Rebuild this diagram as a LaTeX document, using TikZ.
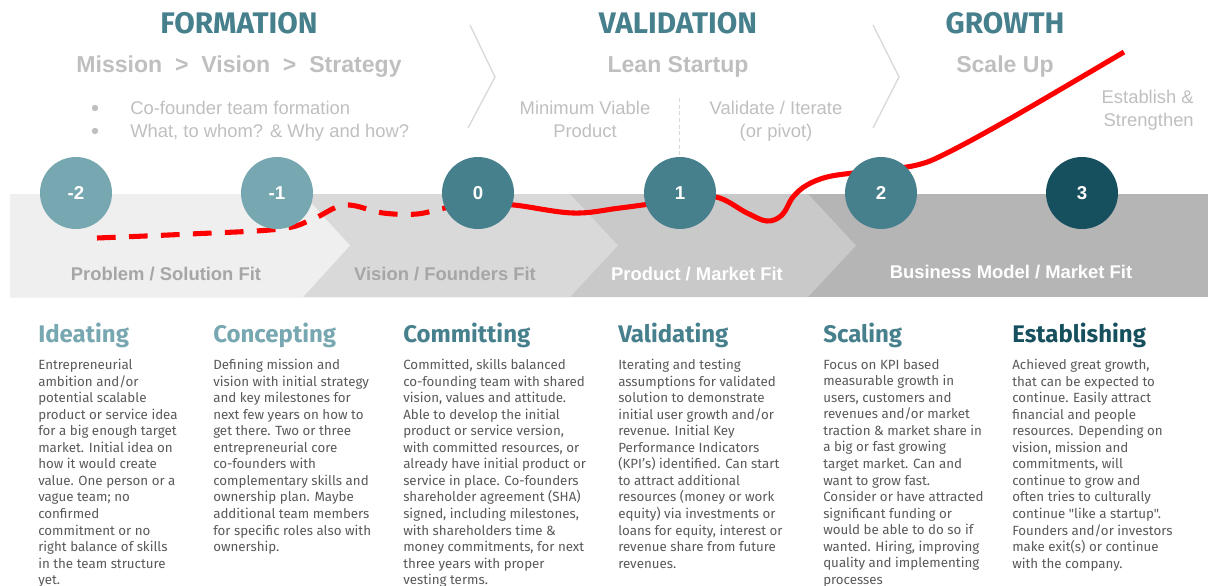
\documentclass[tikz,border=0pt]{standalone}
\usepackage{fontspec}
\setmainfont{Liberation Sans}
\newfontfamily\ubu{Fira Sans}
\usetikzlibrary{positioning}
\definecolor{tealL}{HTML}{77A7B0}
\definecolor{tealM}{HTML}{47808D}
\definecolor{tealD}{HTML}{164F5E}
\definecolor{gryA}{HTML}{EFEFEF}
\definecolor{gryB}{HTML}{D9D9D9}
\definecolor{gryC}{HTML}{C9C9C9}
\definecolor{gryD}{HTML}{B5B5B5}
\definecolor{txtL}{HTML}{BFBFBF}
\definecolor{txtM}{HTML}{A6A6A6}
\definecolor{txtB}{HTML}{595959}
\tikzset{
  phase/.style={font=\ubu\bfseries\fontsize{22.3}{25}\selectfont, text=tealM, inner sep=0, anchor=base},
  sub/.style={font=\bfseries\fontsize{17.3}{20}\selectfont, text=txtL, inner sep=0, anchor=base},
  note/.style={font=\fontsize{13.8}{17.25}\selectfont, text=txtL, inner sep=0, align=center, anchor=north},
  stage/.style={circle, minimum size=54pt, inner sep=0, text=white, font=\bfseries\fontsize{14}{16}\selectfont},
  fitlabel/.style={font=\bfseries\fontsize{13.8}{16}\selectfont, inner sep=0, anchor=base},
  head/.style={font=\ubu\bfseries\fontsize{18}{21}\selectfont, inner sep=0, anchor=base west},
  body/.style={font=\ubu\fontsize{10}{12.4}\selectfont, text=txtB, align=left, anchor=north west, inner sep=0},
  sep/.style={draw=gryB, line width=1pt},
  path/.style={red, line width=3.8pt},
}
\begin{document}
\begin{tikzpicture}[x=0.75pt, y=-0.75pt]
\useasboundingbox (0,0) rectangle (1208,586);

% band of stages
\fill[gryD] (10,194) rectangle (1208,297);
\fill[gryC] (10,194) -- (808,194) -- (856,245.5) -- (808,297) -- (10,297) -- cycle;
\fill[gryB] (10,194) -- (570,194) -- (618,245.5) -- (570,297) -- (10,297) -- cycle;
\fill[gryA] (10,194) -- (303,194) -- (350,245.5) -- (303,297) -- (10,297) -- cycle;

\node[fitlabel, text=txtM] (psf) at (166,280) {Problem / Solution Fit};
\node[fitlabel, text=txtM] (vff) at (445,280) {Vision / Founders Fit};
\node[fitlabel, text=white] (pmf) at (697,280) {Product / Market Fit};
\node[fitlabel, text=white] (bmf) at (1011,278) {Business Model / Market Fit};

% phases
\node[phase] (formation) at (239,33.5) {FORMATION};
\node[phase] (validation) at (678,33.5) {VALIDATION};
\node[phase] (growth) at (1005,33.5) {GROWTH};
\node[sub] (mvs) at (239,72) {Mission~~>~~Vision~~>~~Strategy};
\node[sub] (lean) at (678,72) {Lean Startup};
\node[sub] (scale) at (1005,72) {Scale Up};

\draw[sep] (470,25) -- (495,77) -- (468,128);
\draw[sep] (873,25) -- (899,77) -- (873,128);

\fill[txtL] (95,108) circle (3.2);
\fill[txtL] (95,131) circle (3.2);
\node[note, align=left, anchor=north west] (team) at (130,100.5) {Co-founder team formation\\What, to whom? \& Why and how?};
\node[note] (mvp) at (585,100.5) {Minimum Viable\\Product};
\node[note] (iter) at (776,100.5) {Validate / Iterate\\(or pivot)};
\node[note, align=right, anchor=north east] (est) at (1194,89.5) {Establish \&\\Strengthen};
\draw[gryB, dash pattern=on 3pt off 2pt] (679,98) -- (679,160);

% startup curve
\draw[path, dash pattern=on 14pt off 10pt] plot[smooth, tension=0.6] coordinates {(97,238) (190,234) (280,229) (313,219) (345,205) (383,213) (417,214) (445,208) (478,204)};
\draw[path] plot[smooth, tension=0.6] coordinates {(478,204) (514,205) (573,213) (620,208) (680,200) (716,197) (747,213) (767,221) (782,215) (793,197) (807,185) (827,177) (853,173) (881,170) (917,165) (947,153) (1013,117) (1124,52)};

% stages
\node[stage, fill=tealL] (m2) at (76,193) {-2};
\node[stage, fill=tealL] (m1) at (277,193) {-1};
\node[stage, fill=tealM] (s0) at (478,193) {0};
\node[stage, fill=tealM] (s1) at (680,193) {1};
\node[stage, fill=tealM] (s2) at (881,193) {2};
\node[stage, fill=tealD] (s3) at (1082,193) {3};

% columns
\node[head, text=tealL] (ideating) at (38,342) {Ideating};
\node[body] (ideatingtxt) at (38,359) {Entrepreneurial\\ambition and/or\\potential scalable\\product or service idea\\for a big enough target\\market. Initial idea on\\how it would create\\value. One person or a\\vague team; no\\confirmed\\commitment or no\\right balance of skills\\in the team structure\\yet.};

\node[head, text=tealL] (concepting) at (213,342) {Concepting};
\node[body] (conceptingtxt) at (213,359) {Defining mission and\\vision with initial strategy\\and key milestones for\\next few years on how to\\get there. Two or three\\entrepreneurial core\\co-founders with\\complementary skills and\\ownership plan. Maybe\\additional team members\\for specific roles also with\\ownership.};

\node[head, text=tealM] (committing) at (403,342) {Committing};
\node[body] (committingtxt) at (403,359) {Committed, skills balanced\\co-founding team with shared\\vision, values and attitude.\\Able to develop the initial\\product or service version,\\with committed resources, or\\already have initial product or\\service in place. Co-founders\\shareholder agreement (SHA)\\signed, including milestones,\\with shareholders time \&\\money commitments, for next\\three years with proper\\vesting terms.};

\node[head, text=tealM] (validating) at (618,342) {Validating};
\node[body] (validatingtxt) at (618,359) {Iterating and testing\\assumptions for validated\\solution to demonstrate\\initial user growth and/or\\revenue. Initial Key\\Performance Indicators\\(KPI’s) identified. Can start\\to attract additional\\resources (money or work\\equity) via investments or\\loans for equity, interest or\\revenue share from future\\revenues.};

\node[head, text=tealM] (scaling) at (823,342) {Scaling};
\node[body] (scalingtxt) at (823,359) {Focus on KPI based\\measurable growth in\\users, customers and\\revenues and/or market\\traction \& market share in\\a big or fast growing\\target market. Can and\\want to grow fast.\\Consider or have attracted\\significant funding or\\would be able to do so if\\wanted. Hiring, improving\\quality and implementing\\processes};

\node[head, text=tealD] (establishing) at (1012,342) {Establishing};
\node[body] (establishingtxt) at (1012,359) {Achieved great growth,\\that can be expected to\\continue. Easily attract\\financial and people\\resources. Depending on\\vision, mission and\\commitments, will\\continue to grow and\\often tries to culturally\\continue "like a startup".\\Founders and/or investors\\make exit(s) or continue\\with the company.};
\end{tikzpicture}
\end{document}
